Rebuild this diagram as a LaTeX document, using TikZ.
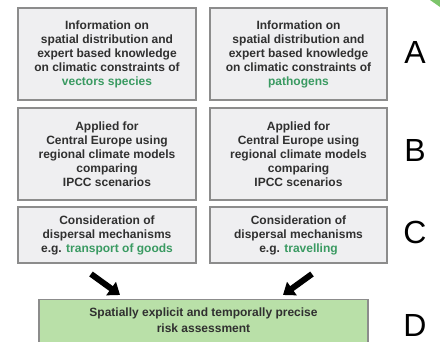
\documentclass[tikz,border=0pt]{standalone}
\usepackage{fontspec}
\setmainfont{Liberation Sans}
\usetikzlibrary{arrows.meta}
\definecolor{boxgray}{HTML}{EFEFF1}
\definecolor{edgegray}{HTML}{8C8C8C}
\definecolor{inkgray}{HTML}{303030}
\definecolor{textgreen}{HTML}{3A9A62}
\definecolor{riskgreen}{HTML}{B9E0A8}
\definecolor{cornergreen}{HTML}{7CC46A}
\newcommand{\grn}[1]{\textcolor{textgreen}{#1}}

\begin{document}
\begin{tikzpicture}[x=1pt, y=-1pt, >=Triangle,
  infobox/.style={draw=edgegray, line width=1.4pt, fill=boxgray, text=inkgray,
    align=center, inner sep=0pt, font=\fontsize{12}{14}\selectfont\bfseries},
  rowlabel/.style={font=\fontsize{32}{32}\selectfont, text=black},
  fatarrow/.style={->, line width=6pt, black, arrows={-Triangle[length=11pt, width=16pt]}}]
  \useasboundingbox (0,0) rectangle (440,342);
  \clip (0,0) rectangle (440,342);
  \fill[cornergreen] (430,0) -- (440,0) -- (440,7) -- cycle;

  % row A
  \node[infobox, minimum width=178, minimum height=92] (infoV) at (107,54)
    {Information on\\spatial distribution and\\expert based knowledge\\on climatic constraints of\\\grn{vectors species}};
  \node[infobox, minimum width=177, minimum height=92] (infoP) at (298.5,54)
    {Information on\\spatial distribution and\\expert based knowledge\\on climatic constraints of\\\grn{pathogens}};
  % row B
  \node[infobox, minimum width=178, minimum height=92] (applV) at (107,154)
    {Applied for\\Central Europe using\\regional climate models\\comparing\\IPCC scenarios};
  \node[infobox, minimum width=177, minimum height=92] (applP) at (298.5,154)
    {Applied for\\Central Europe using\\regional climate models\\comparing\\IPCC scenarios};
  % row C
  \node[infobox, minimum width=178, minimum height=56] (dispV) at (107,235)
    {Consideration of\\dispersal mechanisms\\e.g. \grn{transport of goods}};
  \node[infobox, minimum width=177, minimum height=56] (dispP) at (298.5,235)
    {Consideration of\\dispersal mechanisms\\e.g. \grn{travelling}};
  % row D
  \node[infobox, fill=riskgreen, minimum width=329, minimum height=60, anchor=north] (risk) at (203.5,299) {};
  \node[font=\fontsize{12}{16}\selectfont\bfseries, text=inkgray, align=center] (riskText) at (203.5,320)
    {Spatially explicit and temporally precise\\risk assessment};

  \node[rowlabel] (labA) at (415,52) {A};
  \node[rowlabel] (labB) at (415,150) {B};
  \node[rowlabel] (labC) at (415,232) {C};
  \node[rowlabel] (labD) at (415,325) {D};

  \coordinate (arrV) at (91,274);
  \coordinate (arrVend) at (120,295);
  \coordinate (arrP) at (312,274);
  \coordinate (arrPend) at (283,295);
  \draw[fatarrow] (arrV) -- (arrVend);
  \draw[fatarrow] (arrP) -- (arrPend);
\end{tikzpicture}
\end{document}
